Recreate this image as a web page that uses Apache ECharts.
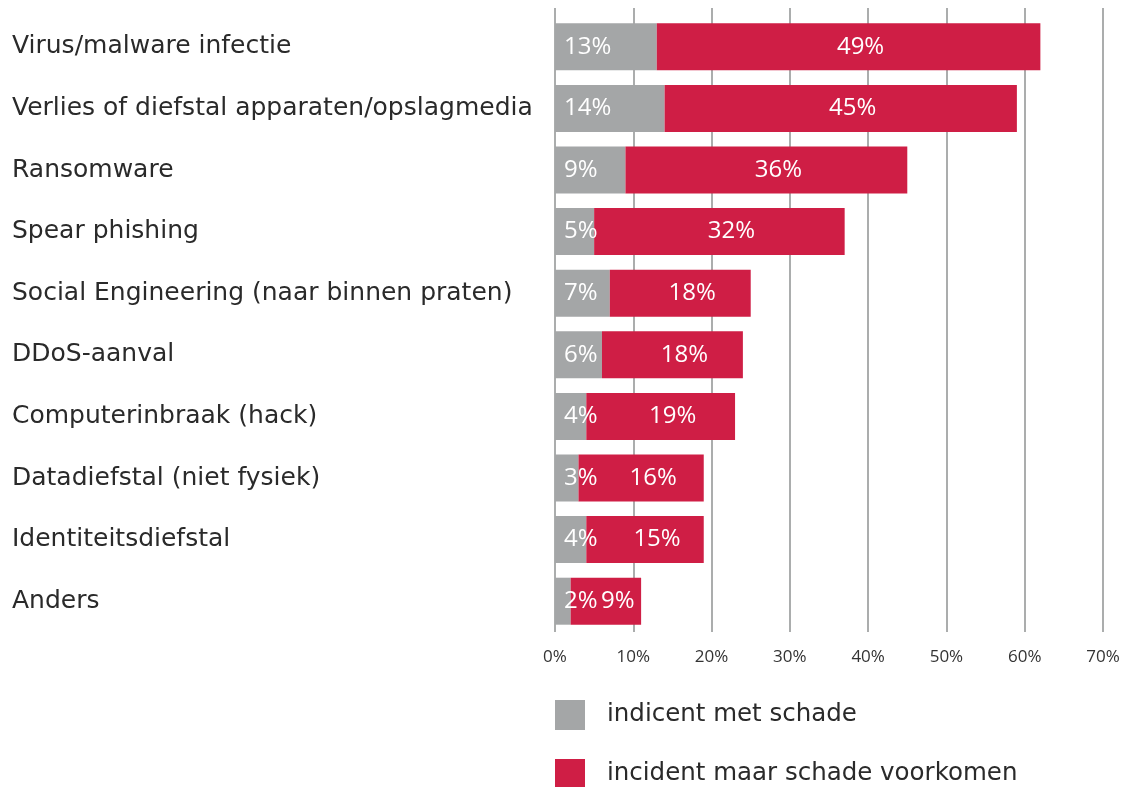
<!DOCTYPE html>
<html>
<head>
<meta charset="utf-8">
<script src="https://cdn.jsdelivr.net/npm/echarts@6/dist/echarts.min.js"></script>
<style>
html,body{margin:0;padding:0;background:#fff;}
#chart{width:1124px;height:787px;}
</style>
</head>
<body>
<div id="chart"></div>
<script>
const categories = [
  "Virus/malware infectie",
  "Verlies of diefstal apparaten/opslagmedia",
  "Ransomware",
  "Spear phishing",
  "Social Engineering (naar binnen praten)",
  "DDoS-aanval",
  "Computerinbraak (hack)",
  "Datadiefstal (niet fysiek)",
  "Identiteitsdiefstal",
  "Anders"
];
const metSchade = [13, 14, 9, 5, 7, 6, 4, 3, 4, 2];
const voorkomen = [49, 45, 36, 32, 18, 18, 19, 16, 15, 9];
const seriesNames = ["indicent met schade", "incident maar schade voorkomen"];
const xTicks = [0, 10, 20, 30, 40, 50, 60, 70];

const FONT = "'Open Sans', Lato, sans-serif";
const WIDE = "'DejaVu Sans', 'Open Sans', sans-serif";
const GRAY = "#a4a6a7";
const RED = "#cf1e45";
const GRID = "#abadad";

const legendBase = {
  orient: 'vertical', left: 555, itemWidth: 30, itemHeight: 30, padding: 0,
  icon: 'rect',
  textStyle: {fontSize: 24.5, color: '#2a2a2a', fontFamily: WIDE, padding: [0, 0, 0, 17]}
};

const chart = echarts.init(document.getElementById('chart'), null, {renderer: 'canvas'});
chart.setOption({
  animation: false,
  textStyle: {fontFamily: FONT},
  grid: {left: 555, right: 21, top: 16, bottom: 155, containLabel: false},
  xAxis: [{
    type: 'value', min: xTicks[0], max: xTicks[xTicks.length - 1], interval: 10,
    axisLine: {show: false}, axisTick: {show: false},
    splitLine: {show: true, lineStyle: {color: GRID, width: 2}},
    axisLabel: {formatter: v => v + '%', fontSize: 17, color: '#333', margin: 17, fontFamily: FONT}
  }, {
    type: 'value', position: 'top', min: 0, max: 70, interval: 10,
    axisLine: {show: false},
    axisTick: {show: true, length: 8, lineStyle: {color: GRID, width: 2}},
    splitLine: {show: false}, axisLabel: {show: false}
  }],
  yAxis: {
    type: 'category', data: categories, inverse: true,
    axisLine: {show: false}, axisTick: {show: false},
    axisLabel: {align: 'left', margin: 543, fontSize: 25, color: '#2a2a2a', fontFamily: WIDE,
      padding: [5, 0, 0, 0]}
  },
  legend: [
    Object.assign({}, legendBase, {top: 700, data: [seriesNames[0]]}),
    Object.assign({}, legendBase, {top: 759, data: [seriesNames[1]]})
  ],
  series: [{
    name: seriesNames[0], type: 'bar', stack: 'total', barWidth: 47,
    data: metSchade, itemStyle: {color: GRAY},
    label: {show: true, position: 'insideLeft', distance: 9, formatter: p => p.value + '%',
      color: '#fff', fontSize: 24, fontFamily: FONT}
  }, {
    name: seriesNames[1], type: 'bar', stack: 'total', barWidth: 47,
    data: voorkomen, itemStyle: {color: RED},
    label: {show: true, position: 'inside', offset: [12, 0], formatter: p => p.value + '%',
      color: '#fff', fontSize: 24, fontFamily: FONT}
  }]
});
</script>
</body>
</html>
